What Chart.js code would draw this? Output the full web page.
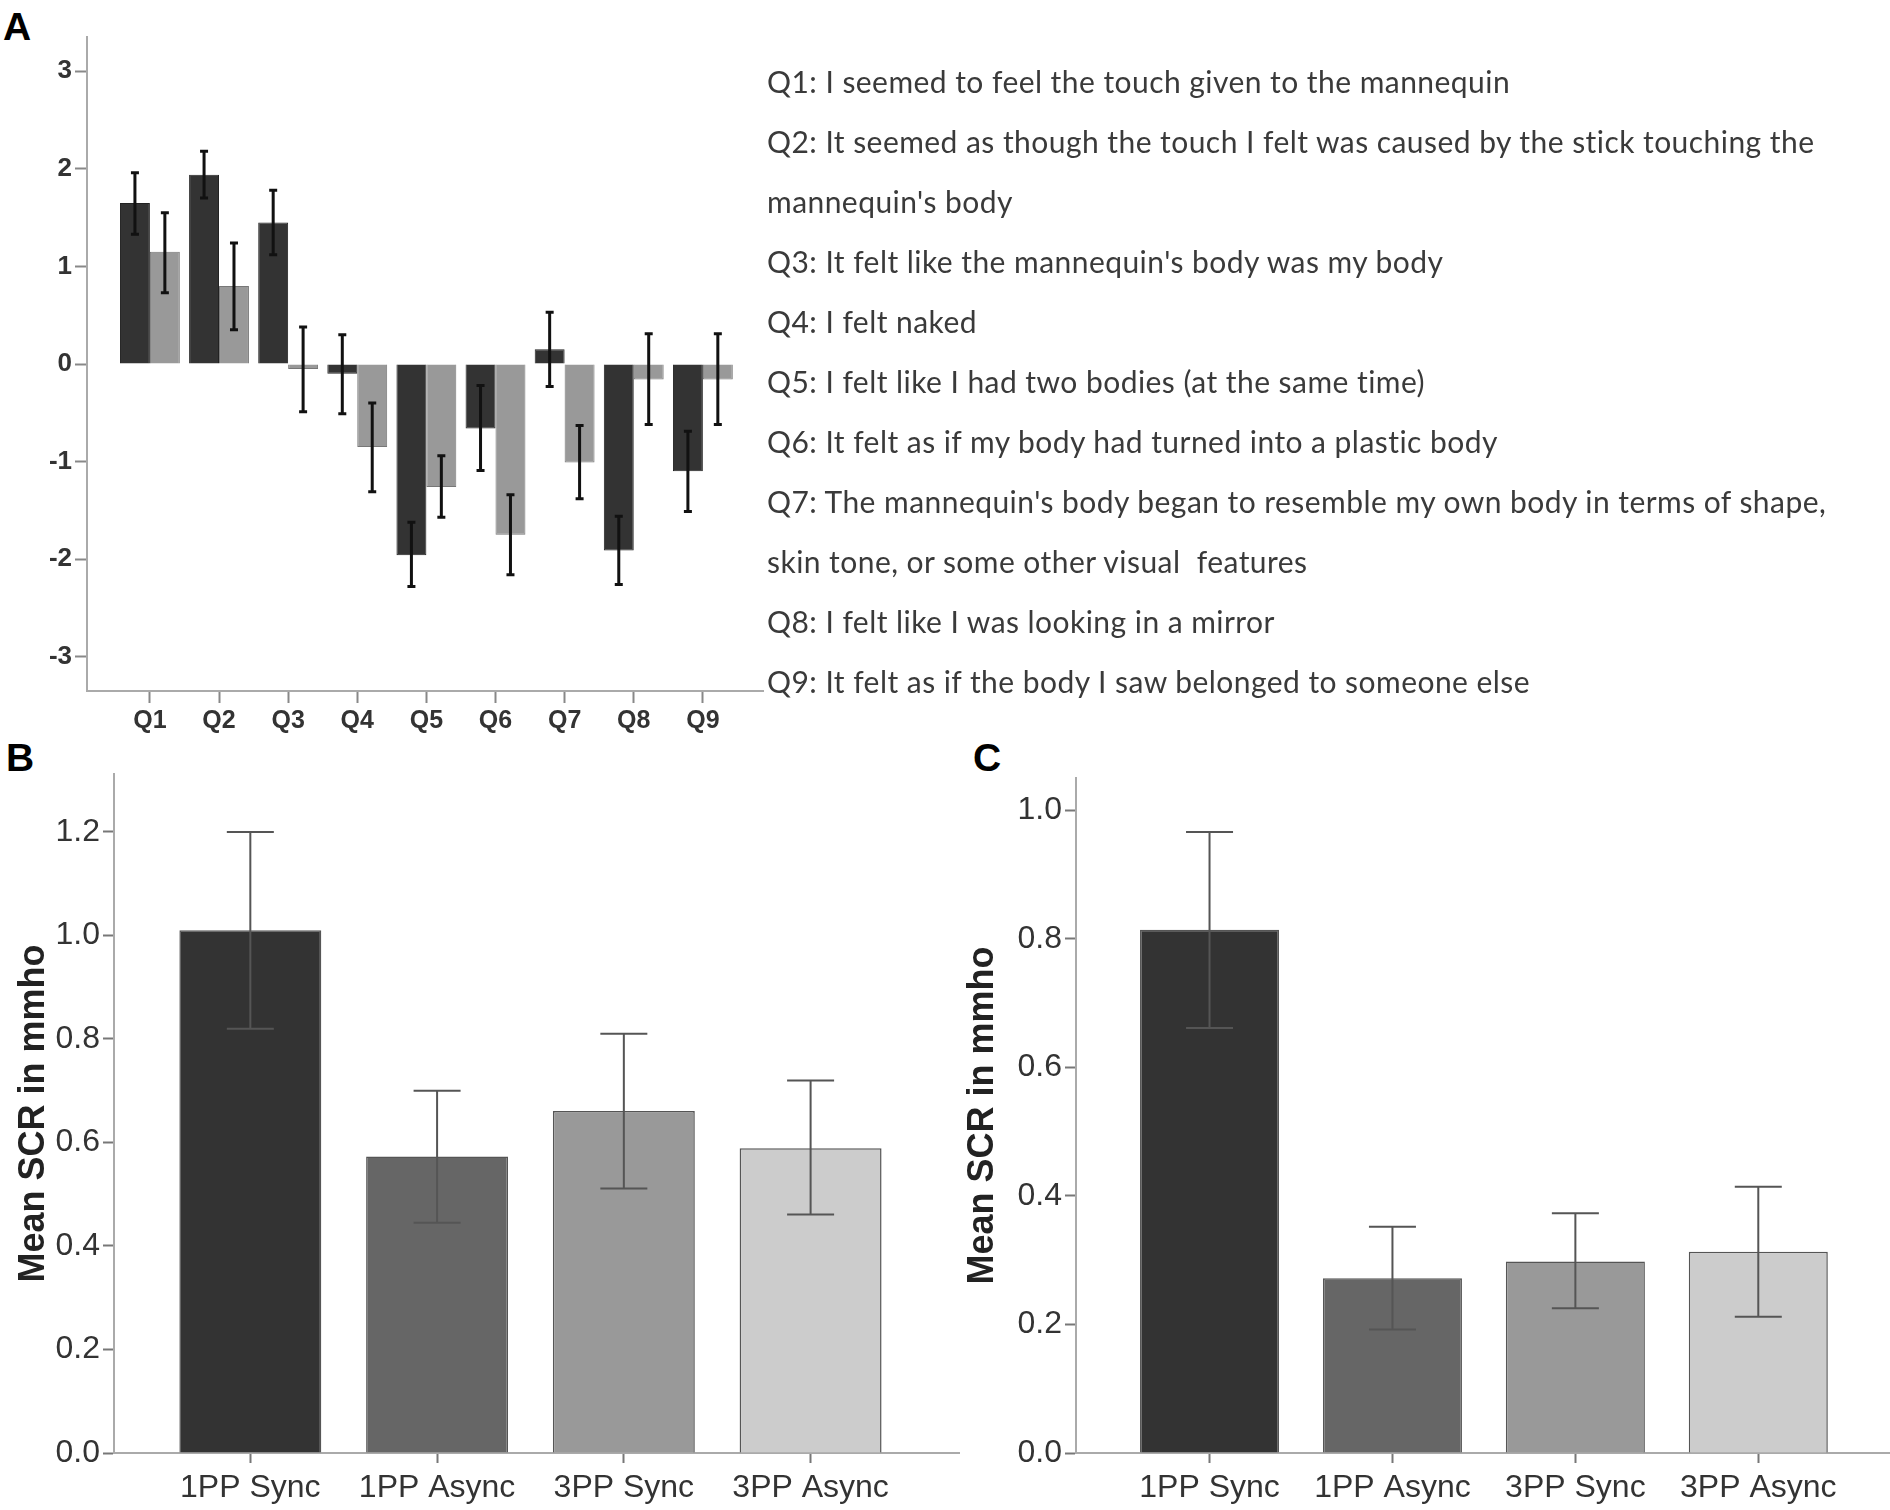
<!DOCTYPE html>
<html>
<head>
<meta charset="utf-8">
<script src="https://cdn.jsdelivr.net/npm/chart.js@4.4.1/dist/chart.umd.min.js"></script>
<style>
  body { margin: 0; background: #fff; width: 1890px; height: 1510px; position: relative; overflow: hidden; }
  .box { position: absolute; }
  .letter { position: absolute; font: bold 39px "Liberation Sans", Arial, sans-serif; line-height: 39px; color: #000; }
  #questions { position: absolute; left: 767px; top: 51px; font: 30px Lato, "Open Sans", sans-serif; letter-spacing: 0.45px;
    font-variant-ligatures: none; line-height: 60px; color: #3a3a3a; white-space: pre; }
</style>
</head>
<body>
<div class="letter" style="left:3px;top:7px">A</div>
<div class="letter" style="left:6px;top:738px">B</div>
<div class="letter" style="left:973px;top:738px">C</div>
<div class="box" style="left:0;top:0"><canvas id="chartA" width="770" height="760"></canvas></div>
<div class="box" style="left:0;top:740px"><canvas id="chartB" width="960" height="770"></canvas></div>
<div class="box" style="left:940px;top:740px"><canvas id="chartC" width="950" height="770"></canvas></div>
<div id="questions"></div>
<script>
// panel A: questionnaire ratings (sync = dark, async = light)
const qLabels = ["Q1", "Q2", "Q3", "Q4", "Q5", "Q6", "Q7", "Q8", "Q9"];
const syncMean = [1.65, 1.94, 1.45, -0.10, -1.96, -0.66, 0.15, -1.91, -1.10];
const syncLow = [1.33, 1.70, 1.12, -0.51, -2.28, -1.09, -0.23, -2.26, -1.51];
const syncHigh = [1.96, 2.18, 1.78, 0.30, -1.62, -0.22, 0.53, -1.56, -0.69];
const asyncMean = [1.15, 0.80, -0.05, -0.85, -1.26, -1.75, -1.01, -0.16, -0.16];
const asyncLow = [0.73, 0.35, -0.49, -1.31, -1.57, -2.16, -1.38, -0.62, -0.62];
const asyncHigh = [1.55, 1.24, 0.38, -0.40, -0.94, -1.34, -0.63, 0.31, 0.31];

const questions = [
  "Q1: I seemed to feel the touch given to the mannequin",
  "Q2: It seemed as though the touch I felt was caused by the stick touching the",
  "mannequin's body",
  "Q3: It felt like the mannequin's body was my body",
  "Q4: I felt naked",
  "Q5: I felt like I had two bodies (at the same time)",
  "Q6: It felt as if my body had turned into a plastic body",
  "Q7: The mannequin's body began to resemble my own body in terms of shape,",
  "skin tone, or some other visual  features",
  "Q8: I felt like I was looking in a mirror",
  "Q9: It felt as if the body I saw belonged to someone else"
];

// panels B and C: mean SCR
const conditions = ["1PP Sync", "1PP Async", "3PP Sync", "3PP Async"];
const scrB = [1.01, 0.573, 0.661, 0.589];
const scrBLow = [0.82, 0.445, 0.511, 0.461];
const scrBHigh = [1.20, 0.70, 0.81, 0.72];
const scrC = [0.814, 0.272, 0.298, 0.313];
const scrCLow = [0.661, 0.192, 0.225, 0.212];
const scrCHigh = [0.966, 0.352, 0.373, 0.414];
const barColors = ["#333333", "#666666", "#999999", "#cccccc"];

document.getElementById("questions").textContent = questions.join("\n");

Chart.defaults.font.family = '"Liberation Sans", Arial, sans-serif';
Chart.defaults.color = "#333";

const errorBars = {
  id: "errorBars",
  afterDatasetsDraw(chart, args, opts) {
    const ctx = chart.ctx;
    const y = chart.scales.y;
    chart.data.datasets.forEach((ds, i) => {
      chart.getDatasetMeta(i).data.forEach((bar, j) => {
        const lo = y.getPixelForValue(ds.errLow[j]);
        const hi = y.getPixelForValue(ds.errHigh[j]);
        ctx.save();
        ctx.strokeStyle = opts.color;
        ctx.lineWidth = opts.width;
        ctx.beginPath();
        ctx.moveTo(bar.x, lo); ctx.lineTo(bar.x, hi);
        ctx.moveTo(bar.x - opts.cap / 2, lo); ctx.lineTo(bar.x + opts.cap / 2, lo);
        ctx.moveTo(bar.x - opts.cap / 2, hi); ctx.lineTo(bar.x + opts.cap / 2, hi);
        ctx.stroke();
        ctx.restore();
      });
    });
  }
};

const toPoints = arr => arr.map((v, i) => ({ x: i, y: v }));
const intTicks = n => scale => { scale.ticks = Array.from({ length: n }, (_, i) => ({ value: i })); };

// ---- A ----
new Chart("chartA", {
  type: "bar",
  data: {
    datasets: [
      { data: toPoints(syncMean), errLow: syncLow, errHigh: syncHigh,
        backgroundColor: "#333", borderColor: "#222", borderWidth: 1 },
      { data: toPoints(asyncMean), errLow: asyncLow, errHigh: asyncHigh,
        backgroundColor: "#999", borderColor: "#777", borderWidth: 1 }
    ]
  },
  options: {
    responsive: false,
    animation: false,
    categoryPercentage: 0.866,
    barPercentage: 1,
    layout: { padding: { top: 37, right: 7, left: 0, bottom: 0 } },
    plugins: {
      legend: { display: false },
      tooltip: { enabled: false },
      errorBars: { color: "#111", width: 3, cap: 8 }
    },
    scales: {
      x: {
        type: "linear", min: -0.91, max: 8.87, offset: false,
        afterBuildTicks: intTicks(qLabels.length),
        afterFit: s => { s.height = 69; },
        grid: { offset: false, drawOnChartArea: false, tickLength: 12, tickColor: "#888", tickWidth: 2 },
        border: { color: "#aaa", width: 2 },
        ticks: { callback: v => qLabels[v], padding: 3, font: { size: 25, weight: "bold" }, maxRotation: 0, autoSkip: false }
      },
      y: {
        min: -3.35, max: 3.35,
        afterFit: s => { s.width = 87; },
        grid: { drawOnChartArea: false, tickLength: 12, tickColor: "#888", tickWidth: 2 },
        border: { color: "#aaa", width: 2 },
        ticks: { stepSize: 1, includeBounds: false, padding: 3, font: { size: 26, weight: "bold" } }
      }
    }
  },
  plugins: [errorBars]
});

// ---- B / C ----
function scrChart(id, values, low, high, yMax, yWidth, padTop, titlePad, xMax) {
  return new Chart(id, {
    type: "bar",
    data: {
      datasets: [{
        data: toPoints(values), errLow: low, errHigh: high,
        backgroundColor: barColors, borderColor: "#555", borderWidth: 1.5
      }]
    },
    options: {
      responsive: false,
      animation: false,
      categoryPercentage: 0.76,
      barPercentage: 1,
      layout: { padding: { top: padTop, right: 0, left: 0, bottom: 0 } },
      plugins: {
        legend: { display: false },
        tooltip: { enabled: false },
        errorBars: { color: "#555", width: 2, cap: 47 }
      },
      scales: {
        x: {
          type: "linear", min: -0.73, max: xMax, offset: false,
          afterBuildTicks: intTicks(conditions.length),
          afterFit: s => { s.height = 57; },
          grid: { offset: false, drawOnChartArea: false, tickLength: 10, tickColor: "#777", tickWidth: 2 },
          border: { color: "#aaa", width: 2 },
          ticks: { callback: v => conditions[v], padding: 6, font: { size: 32 }, maxRotation: 0, autoSkip: false }
        },
        y: {
          min: 0, max: yMax,
          afterFit: s => { s.width = yWidth; },
          grid: { drawOnChartArea: false, tickLength: 11, tickColor: "#777", tickWidth: 2 },
          border: { color: "#aaa", width: 2 },
          ticks: { stepSize: 0.2, includeBounds: false, padding: 3, font: { size: 32 }, callback: v => v.toFixed(1) },
          title: { display: true, text: "Mean SCR in mmho", color: "#222", padding: { top: titlePad, bottom: 0 }, font: { size: 36, weight: "bold" } }
        }
      }
    },
    plugins: [errorBars]
  });
}

scrChart("chartB", scrB, scrBLow, scrBHigh, 1.312, 114, 34, 12, 3.8);
scrChart("chartC", scrC, scrCLow, scrCHigh, 1.05, 136, 38, 21, 3.72);
</script>
</body>
</html>
